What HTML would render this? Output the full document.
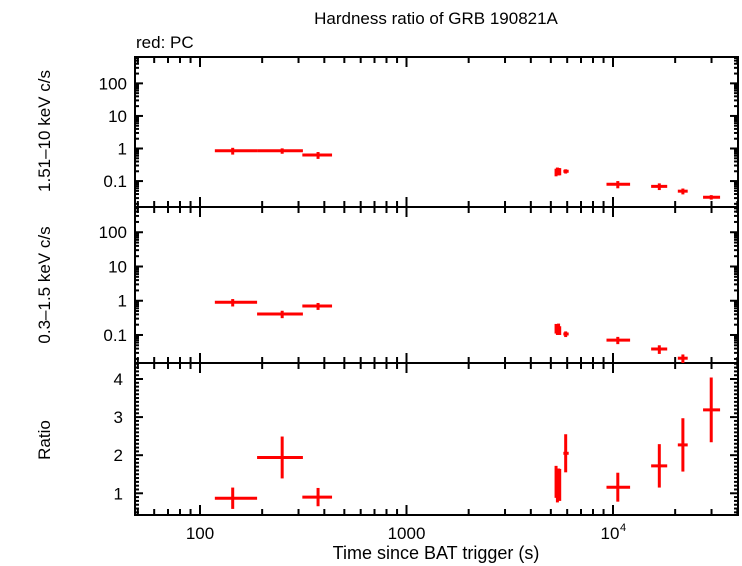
<!DOCTYPE html>
<html><head><meta charset="utf-8"><style>
body{margin:0;background:#fff}
svg{display:block;font-family:"Liberation Sans",sans-serif}
</style></head><body>
<svg id="c" width="742" height="566" xmlns="http://www.w3.org/2000/svg">
<text x="436" y="24" font-size="17" text-anchor="middle">Hardness ratio of GRB 190821A</text>
<text x="136" y="48" font-size="17">red: PC</text>
<text x="436" y="559" font-size="18" text-anchor="middle">Time since BAT trigger (s)</text>
<text transform="translate(50,131) rotate(-90)" font-size="17" text-anchor="middle">1.51–10 keV c/s</text>
<text transform="translate(50,285) rotate(-90)" font-size="17" text-anchor="middle">0.3–1.5 keV c/s</text>
<text transform="translate(50,440) rotate(-90)" font-size="17" text-anchor="middle">Ratio</text>
</svg>
<script>
// data
const times   = [144, 250, 373, 5300, 5380, 5450, 5520, 5900, 10550, 16760, 21800, 29900];
const tLo     = [118, 189, 313, 5250, 5330, 5400, 5470, 5750, 9300, 15300, 20600, 27300];
const tHi     = [189, 315, 436, 5350, 5430, 5500, 5570, 6100, 12100, 18300, 23000, 33000];
const hard    = [0.85, 0.85, 0.63, 0.19, 0.21, 0.2, 0.2, 0.2, 0.08, 0.069, 0.049, 0.032];
const hardErr = [0.2, 0.16, 0.15, 0.05, 0.05, 0.05, 0.05, 0.03, 0.02, 0.016, 0.01, 0.005];
const soft    = [0.9, 0.41, 0.7, 0.16, 0.15, 0.165, 0.14, 0.107, 0.071, 0.039, 0.021, null];
const softErr = [0.22, 0.1, 0.16, 0.05, 0.05, 0.05, 0.04, 0.02, 0.017, 0.011, 0.006, null];
const ratio   = [0.87, 1.94, 0.9, 1.3, 1.2, 1.25, 1.22, 2.05, 1.16, 1.72, 2.27, 3.19];
const ratioErr= [0.28, 0.55, 0.24, 0.42, 0.44, 0.4, 0.42, 0.5, 0.38, 0.57, 0.7, 0.85];
const logTicks = [0.1, 1, 10, 100];
const logTickLabels = ["0.1", "1", "10", "100"];
const ratioTicks = [1, 2, 3, 4];
const xTicks = [100, 1000, 10000];

const NS="http://www.w3.org/2000/svg", svg=document.getElementById('c');
const L=135, R=738;
const P=[{t:57,b:207,lo:0.016,hi:645,log:true},{t:207,b:363,lo:0.0152,hi:546,log:true},{t:363,b:515,lo:0.43,hi:4.42,log:false}];
const xs=t=>200+206.5*Math.log10(t/100);
function ys(p,v){return p.log? p.b-(p.b-p.t)*(Math.log10(v/p.lo)/Math.log10(p.hi/p.lo)) : p.b-(p.b-p.t)*(v-p.lo)/(p.hi-p.lo);}
function el(tag,a,txt){const e=document.createElementNS(NS,tag);for(const k in a)e.setAttribute(k,a[k]);if(txt!=null)e.textContent=txt;svg.appendChild(e);return e;}
function line(x1,y1,x2,y2,c,w){return el('line',{x1,y1,x2,y2,stroke:c,'stroke-width':w});}

P.forEach((p,i)=>{
  const r=el('rect',{x:L,y:p.t,width:R-L,height:p.b-p.t,fill:'none',stroke:'#000','stroke-width':2});
  
  
  for(let d=10;d<=10000;d*=10)for(let m=1;m<10;m++){const t=d*m;const x=xs(t);if(x<L||x>R)continue;
    const len=m==1?10:6;line(x,p.t,x,p.t+len,'#000',2);line(x,p.b,x,p.b-len,'#000',2);}
  if(p.log){
    for(let d=0.01;d<=1000;d*=10)for(let m=1;m<10;m++){const v=d*m;if(v<p.lo||v>p.hi)continue;const y=ys(p,v);const len=m==1?8:4;
      line(L,y,L+len,y,'#000',2);line(R,y,R-len,y,'#000',2);}
    logTicks.forEach((v,k)=>{const t=el('text',{x:L-8,y:ys(p,v)+6,'font-size':17,'text-anchor':'end'},logTickLabels[k]);
      });
  } else {
    for(let v=0.5;v<=4.4;v+=0.1){const y=ys(p,v);const mj=Math.abs(v-Math.round(v))<1e-6;const len=mj?8:4;
      line(L,y,L+len,y,'#000',2);line(R,y,R-len,y,'#000',2);}
    ratioTicks.forEach(v=>{const t=el('text',{x:L-12,y:ys(p,v)+6,'font-size':17,'text-anchor':'end'},String(v));
      });
  }
});
const xl=["100","1000"];
xTicks.slice(0,2).forEach((t,k)=>{const e=el('text',{x:xs(t),y:539,'font-size':17,'text-anchor':'middle'},xl[k]);
  });
const e4=el('text',{x:xs(xTicks[2])-3,y:539,'font-size':17,'text-anchor':'middle'},'10');

const s4=el('text',{x:xs(xTicks[2])+7,y:531,'font-size':11},'4');


const series=[[hard,hardErr],[soft,softErr],[ratio,ratioErr]];
series.forEach(([v,e],i)=>{const p=P[i];
  times.forEach((t,k)=>{if(v[k]==null)return;
    const lo=v[k]-e[k], hi=v[k]+e[k];
    const y=ys(p,v[k]);
    const g=document.createElementNS(NS,'g');svg.appendChild(g);
    
    
    const h=document.createElementNS(NS,'line');
    [['x1',xs(tLo[k])],['x2',xs(tHi[k])],['y1',y],['y2',y],['stroke','#f00'],['stroke-width',3]].forEach(a=>h.setAttribute(a[0],a[1]));
    const vv=document.createElementNS(NS,'line');
    [['x1',xs(t)],['x2',xs(t)],['y1',Math.min(p.b,ys(p,Math.max(lo,p.lo*1.0001)))],['y2',Math.max(p.t,ys(p,hi))],['stroke','#f00'],['stroke-width',3]].forEach(a=>vv.setAttribute(a[0],a[1]));
    g.appendChild(h);g.appendChild(vv);
  });
});
</script>
</body></html>
